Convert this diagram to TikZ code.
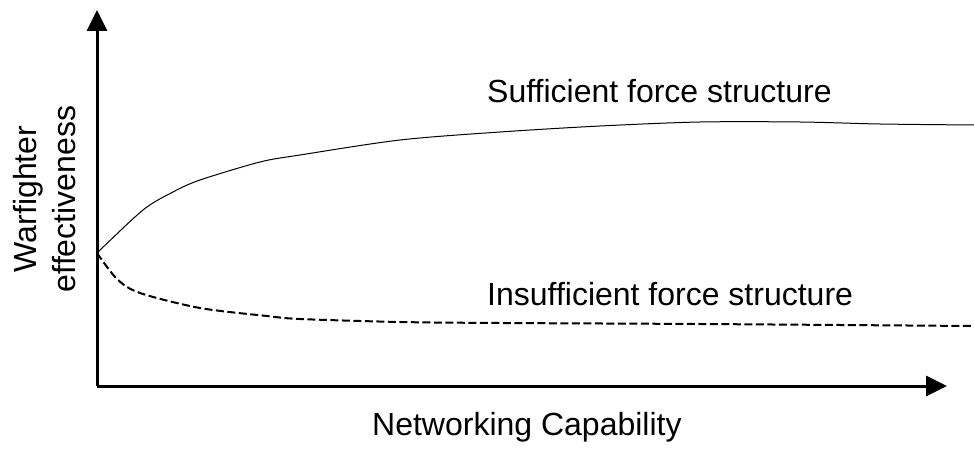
\documentclass[tikz,border=0pt]{standalone}
\usepackage{fontspec}
\setmainfont{Liberation Sans}
\usetikzlibrary{arrows.meta}

\begin{document}
\begin{tikzpicture}[x=1pt,y=-1pt,font=\fontsize{32}{39}\selectfont]
                \useasboundingbox (0,0) rectangle (974,449);
                \coordinate (O) at (97,386);
                \coordinate (Y) at (97,10);
                \coordinate (X) at (947,386);
                \draw [line width=3pt,-{Triangle[width=20pt,length=21pt]}] (O) -- (Y);
                \draw [line width=3pt,-{Triangle[width=20pt,length=21pt]}] (O) -- (X);
                \draw [line width=1pt] plot[smooth] coordinates {(97,253) (143,210) (173,192) (200,180) (260,162) (300,155) (400,140) (500,132) (600,126) (700,122) (800,122) (880,124) (974,125)};
                \draw [line width=2pt,dash pattern=on 8pt off 3.5pt] plot[smooth] coordinates {(97,253) (117,279) (140,293) (200,308) (267,316) (300,319) (400,322) (500,323) (700,324) (974,326)};
                \node (S) [anchor=base west,inner sep=0pt] at (487,103) {Sufficient force structure};
                \node (I) [anchor=base west,inner sep=0pt] at (487,305) {Insufficient force structure};
                \node (N) [anchor=base west,inner sep=0pt] at (372,435) {Networking Capability};
                \node (W) [rotate=90,align=center,inner sep=0pt] at (45,199) {Warfighter\\effectiveness};
            \end{tikzpicture}
\end{document}
